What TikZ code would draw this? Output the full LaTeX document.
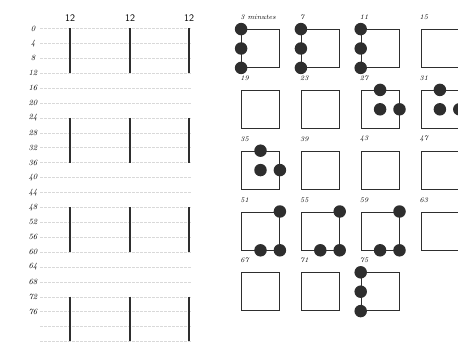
\documentclass[tikz,border=0pt]{standalone}
\usepackage{tikz}
\usetikzlibrary{positioning}
\definecolor{ink}{HTML}{2E2E2E}

\begin{document}
\begin{tikzpicture}[
    x=1pt, y=-1pt,
    node distance=22pt and 21pt,
    box/.style={draw=ink, line width=0.8pt, minimum width=38pt, minimum height=38pt, inner sep=0pt},
    dot/.style={circle, fill=ink, minimum size=12.5pt, inner sep=0pt},
    tick/.style={font=\footnotesize\itshape, inner sep=1pt},
    head/.style={font=\sffamily, inner sep=1pt},
    rule/.style={gray!30, dash pattern=on 3pt off 1pt, line width=0.4pt},
    bar/.style={ink, line width=1.3pt},
    every label/.style={font=\scriptsize\itshape, inner sep=1pt, anchor=south west, xshift=-2pt, yshift=8pt}
  ]
    \useasboundingbox (0,0) rectangle (458,350);
    % Left: hour columns
    \node[head] (h1) at (70,18) {12};
    \node[head] (h2) at (130,18) {12};
    \node[head] (h3) at (189,18) {12};
    \foreach \n [count=\i from 0] in {0,4,...,84}
      \coordinate (r\n) at (40,{28.5+14.9*\i});
    \foreach \n in {0,4,...,84}
      \draw[rule] (r\n) -- ++(151,0);
    \foreach \n in {0,4,...,76}
      \node[tick] (t\n) at ([xshift=-7pt]r\n) {\n};
    \foreach \h in {h1,h2,h3}
      \foreach \s/\e in {0/12,24/36,48/60,72/84}
        \draw[bar] (\h |- r\s) -- (\h |- r\e);
    % Right: one box every four minutes
    \node[box, label={north west:3 minutes}] (m3) at (260.5,48.5) {};
    \node[box, right=of m3, label={north west:7}] (m7) {};
    \node[box, right=of m7, label={north west:11}] (m11) {};
    \node[box, right=of m11, label={north west:15}] (m15) {};
    \node[box, below=of m3, label={north west:19}] (m19) {};
    \node[box, right=of m19, label={north west:23}] (m23) {};
    \node[box, right=of m23, label={north west:27}] (m27) {};
    \node[box, right=of m27, label={north west:31}] (m31) {};
    \node[box, below=of m19, label={north west:35}] (m35) {};
    \node[box, right=of m35, label={north west:39}] (m39) {};
    \node[box, right=of m39, label={north west:43}] (m43) {};
    \node[box, right=of m43, label={north west:47}] (m47) {};
    \node[box, below=of m35, label={north west:51}] (m51) {};
    \node[box, right=of m51, label={north west:55}] (m55) {};
    \node[box, right=of m55, label={north west:59}] (m59) {};
    \node[box, right=of m59, label={north west:63}] (m63) {};
    \node[box, below=of m51, label={north west:67}] (m67) {};
    \node[box, right=of m67, label={north west:71}] (m71) {};
    \node[box, right=of m71, label={north west:75}] (m75) {};
    % Dots
    \foreach \b in {m3,m7,m11,m75}
      \foreach \a/\k in {north west/1,west/2,south west/3}
        \node[dot] (\b d\k) at (\b.\a) {};
    \foreach \b in {m27,m31,m35}
      \foreach \a/\k in {north/1,center/2,east/3}
        \node[dot] (\b d\k) at (\b.\a) {};
    \foreach \b in {m51,m55,m59}
      \foreach \a/\k in {north east/1,south east/2,south/3}
        \node[dot] (\b d\k) at (\b.\a) {};
  \end{tikzpicture}
\end{document}
